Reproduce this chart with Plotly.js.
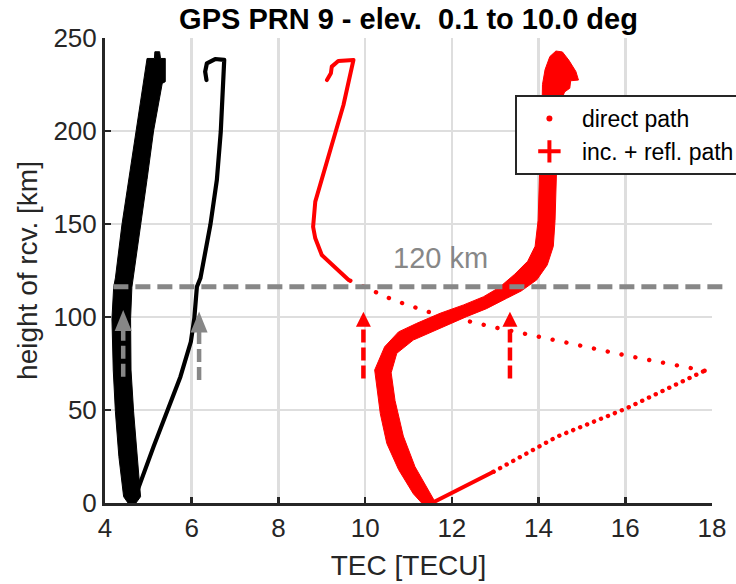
<!DOCTYPE html>
<html><head><meta charset="utf-8">
<script src="https://cdn.plot.ly/plotly-3.0.1.min.js"></script>
<style>
html,body{margin:0;padding:0;background:#fff;}
#chart{width:736px;height:584px;}
.scatterlayer .js-line{stroke-linecap:round;stroke-linejoin:round;}
</style></head><body><div id="chart"></div>
<script>
// ---------- data ----------
const xTicks = [4, 6, 8, 10, 12, 14, 16, 18];
const yTicks = [0, 50, 100, 150, 200, 250];

// black: thick band (inc. + refl. path), outline of the band
const blackBandTEC = [4.62, 4.43, 4.32, 4.24, 4.19, 4.16, 4.20, 4.24, 4.39, 4.55, 4.72, 4.89, 4.97, 5.14, 5.15, 5.26, 5.28, 5.39, 5.39, 5.32, 5.12, 4.97, 4.82, 4.66, 4.62, 4.59, 4.60, 4.66, 4.74, 4.82, 4.62];
const blackBandH   = [-3, 3.4, 25, 49, 71.5, 99, 116, 121, 149.5, 174, 200, 226.5, 239, 239, 242.6, 242.6, 239, 239, 226.5, 225.6, 200, 174, 149.5, 121, 116, 99, 71.5, 49, 25, 3.4, -3];

// black: direct path
const blackDirectTEC = [4.62, 4.74, 5.12, 5.47, 5.74, 5.98, 6.06, 6.12, 6.20, 6.43, 6.58, 6.67, 6.72, 6.75, 6.54, 6.35, 6.31, 6.34];
const blackDirectH   = [0, 6.1, 30.3, 51.8, 67.9, 86.7, 99.3, 116.3, 120.8, 149.5, 173.7, 199.6, 231, 238.2, 238.7, 236.4, 231.9, 227.4];

// red: thick band (inc. + refl. path), outline of the band
const redBandTEC = [11.46, 11.11, 10.77, 10.50, 10.35, 10.22, 10.45, 10.77, 11.19, 11.73, 12.27, 12.73, 13.10, 13.45, 13.75, 13.92, 13.99, 14.03, 14.07, 14.09, 14.15, 14.26, 14.40, 14.55, 14.70, 14.86, 14.92, 14.74, 14.72, 14.60, 14.50, 14.42, 14.42, 14.38, 14.34, 14.20, 13.96, 13.60, 13.26, 12.80, 12.34, 11.73, 11.11, 10.73, 10.60, 10.69, 10.88, 11.15, 11.46, 11.61, 11.50];
const redBandH   = [-4, 5, 18, 32, 48, 71.5, 84, 92, 96.6, 102, 106.5, 110.9, 116, 123, 130, 138, 152, 183, 200, 225, 233, 240, 243, 242.5, 238, 232, 227.4, 227, 223, 221, 215, 200, 183, 152, 138, 128, 120, 114, 110, 104.5, 100.2, 93.9, 87.6, 80.5, 70, 55, 36, 19.5, 7, 0.7, -4];

// red: direct path, in four consecutive pieces (low solid, dense dots, sparse dots, high solid)
const redDirectLowTEC    = [11.54, 12.96];
const redDirectLowH      = [0, 16.8];
const redDirectDenseTEC  = [12.96, 14.42, 16.03, 17.83];
const redDirectDenseH    = [16.8, 35.6, 50.9, 71.1];
const redDirectSparseTEC = [17.83, 16.04, 14.29, 13.01, 11.44, 10.65, 9.92, 9.62];
const redDirectSparseH   = [71.1, 79.2, 88.0, 94.3, 102.9, 109.1, 116.8, 119.9];
const redDirectHighTEC   = [9.62, 9.00, 8.85, 8.80, 8.85, 9.00, 9.23, 9.50, 9.69, 9.73, 9.38, 9.23, 9.21, 9.12];
const redDirectHighH     = [119.9, 133.3, 142.3, 148.5, 162, 174.6, 192.5, 214, 234.6, 238.2, 237.6, 234.6, 231, 227.4];

// reference height line and arrows
const refLineH = 116.3;
const refLineLabel = '120 km';
const refLabelTEC = 11.73, refLabelH = 131.7;
const grayArrowTEC = [4.42, 6.17];
const grayArrowFromH = [67.9, 66.1];
const grayArrowTipH = [103.8, 103.0];
const redArrowTEC = [9.96, 13.34];
const redArrowFromH = [67, 67];
const redArrowTipH = [102.8, 102.8];

// ---------- styling ----------
const RED = '#ff0000', BLACK = '#000000', GRAY = '#878787', AXC = '#262626';
const FONT = 'Liberation Sans, Arial, Helvetica, sans-serif';
const xRange = [4, 18], yRange = [0, 250];
const M = {l: 105, r: 24, t: 38, b: 81};
const W = 736, H = 584;
const pxX = (xRange[1] - xRange[0]) / (W - M.l - M.r);
const pxY = (yRange[1] - yRange[0]) / (H - M.t - M.b);

const traces = [
  {x: blackBandTEC, y: blackBandH, mode: 'lines', fill: 'toself', fillcolor: BLACK, line: {color: BLACK, width: 1}, showlegend: false, hoverinfo: 'skip'},
  {x: blackDirectTEC, y: blackDirectH, mode: 'lines', line: {color: BLACK, width: 4.2}, showlegend: false, hoverinfo: 'skip'},
  {x: redBandTEC, y: redBandH, mode: 'lines', fill: 'toself', fillcolor: RED, line: {color: RED, width: 1}, showlegend: false, hoverinfo: 'skip'},
  {x: redDirectLowTEC, y: redDirectLowH, mode: 'lines', line: {color: RED, width: 4}, showlegend: false, hoverinfo: 'skip'},
  {x: redDirectDenseTEC, y: redDirectDenseH, mode: 'lines', line: {color: RED, width: 4.4, dash: '0.1px,7.4px'}, showlegend: false, hoverinfo: 'skip'},
  {x: redDirectSparseTEC, y: redDirectSparseH, mode: 'lines', line: {color: RED, width: 4.4, dash: '0.1px,14px'}, showlegend: false, hoverinfo: 'skip'},
  {x: redDirectHighTEC, y: redDirectHighH, mode: 'lines', line: {color: RED, width: 4}, showlegend: false, hoverinfo: 'skip'},
  // legend entries
  {x: [null], y: [null], mode: 'markers', name: 'direct path', marker: {symbol: 'circle', size: 6, color: RED}},
  {x: [null], y: [null], mode: 'markers', name: 'inc. + refl. path', marker: {symbol: 'cross-thin', size: 19, color: RED, line: {color: RED, width: 4}}}
];

const shapes = [];
shapes.push({type: 'line', xref: 'paper', yref: 'y', x0: 0.0138, x1: 1.026, y0: refLineH, y1: refLineH,
  line: {color: GRAY, width: 5, dash: '15px,7px'}, layer: 'above'});
function addArrow(xv, fromH, tipH, color, headHalfPx, headLenPx) {
  const baseH = tipH - headLenPx * pxY;
  shapes.push({type: 'line', xref: 'x', yref: 'y', x0: xv, x1: xv, y0: fromH, y1: baseH + 0.5,
    line: {color: color, width: 4.5, dash: '13px,5px'}, layer: 'above'});
  const hw = headHalfPx * pxX;
  shapes.push({type: 'path', xref: 'x', yref: 'y',
    path: `M ${xv - hw},${baseH} L ${xv + hw},${baseH} L ${xv},${tipH} Z`,
    fillcolor: color, line: {color: color, width: 0}, layer: 'above'});
}
grayArrowTEC.forEach((xv, i) => addArrow(xv, grayArrowFromH[i], grayArrowTipH[i], GRAY, 8.5, 21));
redArrowTEC.forEach((xv, i) => addArrow(xv, redArrowFromH[i], redArrowTipH[i], RED, 7.5, 15));

const axisCommon = {
  showline: true, linecolor: AXC, linewidth: 3, mirror: false,
  ticks: 'inside', ticklen: 6, tickwidth: 2.5, tickcolor: AXC,
  showgrid: true, gridcolor: '#dedede', gridwidth: 2.5, zeroline: false,
  tickfont: {family: FONT, size: 26, color: AXC}, fixedrange: true
};

const layout = {
  width: W, height: H,
  margin: Object.assign({autoexpand: false}, M),
  paper_bgcolor: '#ffffff', plot_bgcolor: '#ffffff',
  title: {text: 'GPS PRN 9 - elev.\u00a0 0.1 to 10.0 deg', font: {family: FONT, size: 29, color: '#000', weight: 'bold'},
    x: 0.5, xref: 'paper', xanchor: 'center', y: 1 - 19 / H, yref: 'container', yanchor: 'middle'},
  xaxis: Object.assign({}, axisCommon, {range: xRange, tickvals: xTicks, ticktext: xTicks.map(String),
    title: {text: 'TEC [TECU]', font: {family: FONT, size: 28, color: AXC}, standoff: 14}}),
  yaxis: Object.assign({}, axisCommon, {range: yRange, tickvals: yTicks, ticktext: yTicks.map(String),
    title: {text: 'height of rcv. [km]', font: {family: FONT, size: 28, color: AXC}, standoff: 8}}),
  showlegend: true,
  legend: {x: 0.6753, y: 0.8774, xanchor: 'left', yanchor: 'top', bgcolor: '#ffffff', bordercolor: AXC, borderwidth: 2,
    font: {family: FONT, size: 23, color: '#000'}, itemwidth: 55, tracegroupgap: 0},
  shapes: shapes,
  annotations: [{x: refLabelTEC, y: refLabelH, xref: 'x', yref: 'y', text: refLineLabel, showarrow: false,
    font: {family: FONT, size: 29, color: GRAY}, xanchor: 'center', yanchor: 'middle'}]
};

Plotly.newPlot('chart', traces, layout, {staticPlot: true, displayModeBar: false});
</script></body></html>
